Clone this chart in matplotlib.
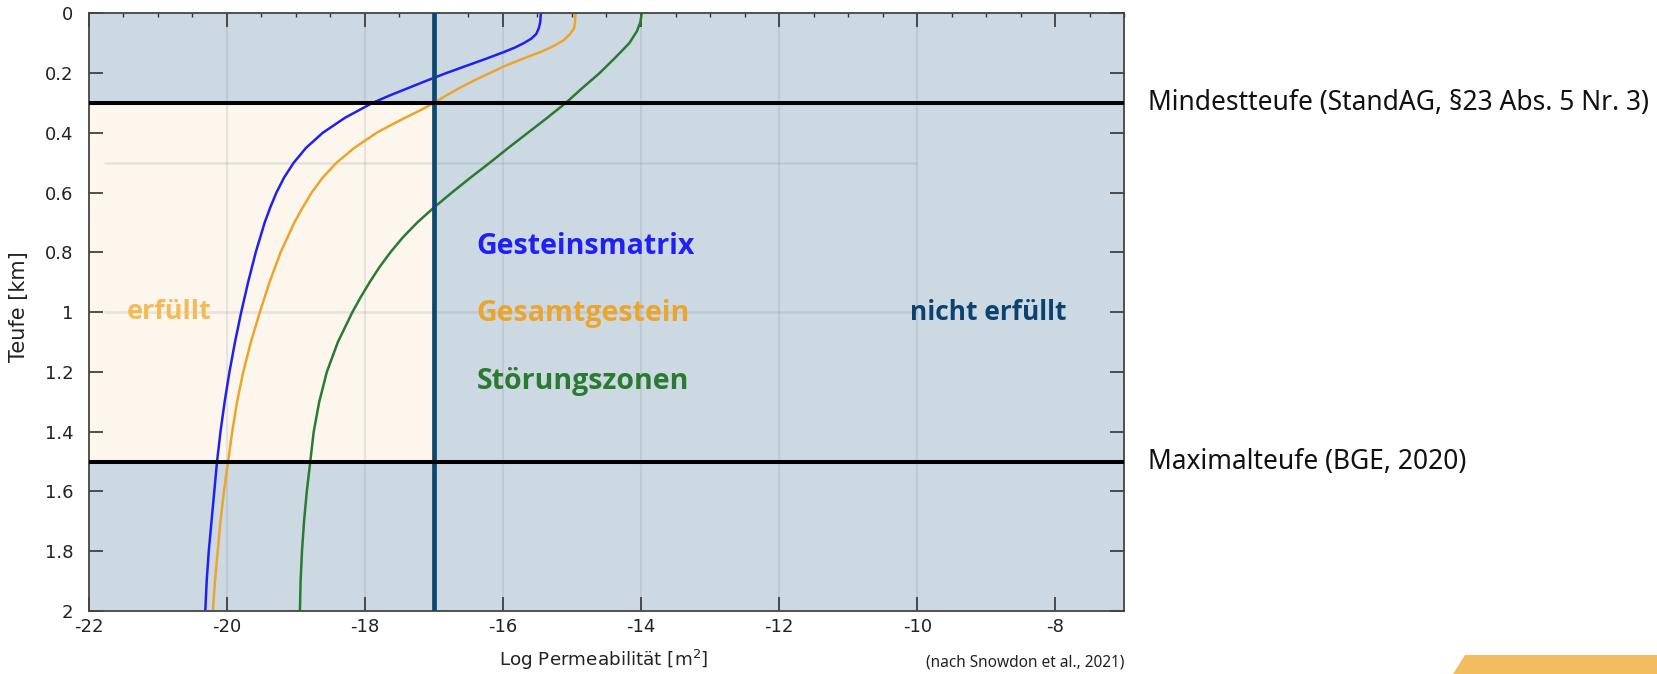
import matplotlib
matplotlib.use("Agg")
import matplotlib.pyplot as plt
from matplotlib.patches import Polygon
from matplotlib.transforms import blended_transform_factory
from matplotlib.ticker import MultipleLocator, FuncFormatter
from matplotlib import font_manager

plt.rcParams['axes.unicode_minus'] = False

# ---------------- data ----------------
blue_depth = [0.0, 0.03, 0.05, 0.07, 0.085, 0.1, 0.115, 0.13, 0.15, 0.175,
              0.2, 0.225, 0.25, 0.275, 0.3, 0.35, 0.4, 0.45, 0.5, 0.55,
              0.6, 0.65, 0.7, 0.8, 0.9, 1.0, 1.1, 1.2, 1.3, 1.4,
              1.5, 1.6, 1.7, 1.8, 1.9, 2.0]
blue_logk = [-15.45, -15.46, -15.48, -15.52, -15.59, -15.70, -15.83, -15.99, -16.22, -16.52,
             -16.82, -17.10, -17.37, -17.64, -17.89, -18.29, -18.61, -18.85, -19.03, -19.17,
             -19.28, -19.37, -19.45, -19.58, -19.69, -19.79, -19.88, -19.96, -20.03, -20.09,
             -20.14, -20.18, -20.22, -20.26, -20.29, -20.31]

orange_depth = [0.0, 0.03, 0.05, 0.07, 0.09, 0.11, 0.13, 0.15, 0.175, 0.2,
                0.225, 0.25, 0.275, 0.3, 0.325, 0.35, 0.375, 0.4, 0.45, 0.5,
                0.55, 0.6, 0.65, 0.7, 0.8, 0.9, 1.0, 1.1, 1.2, 1.3,
                1.4, 1.5, 1.6, 1.7, 1.8, 1.9, 2.0]
orange_logk = [-14.95, -14.955, -14.97, -15.03, -15.12, -15.27, -15.46, -15.69, -15.96, -16.19,
               -16.42, -16.63, -16.82, -17.00, -17.20, -17.42, -17.63, -17.83, -18.15, -18.41,
               -18.61, -18.77, -18.90, -19.02, -19.22, -19.38, -19.52, -19.65, -19.76, -19.85,
               -19.92, -19.98, -20.04, -20.09, -20.13, -20.17, -20.20]

green_depth = [0.0, 0.03, 0.06, 0.1, 0.15, 0.2, 0.25, 0.3, 0.35, 0.4,
               0.45, 0.5, 0.55, 0.6, 0.65, 0.7, 0.75, 0.8, 0.85, 0.9,
               0.95, 1.0, 1.1, 1.2, 1.3, 1.4, 1.5, 1.6, 1.7, 1.8,
               1.9, 2.0]
green_logk = [-13.99, -14.01, -14.06, -14.17, -14.38, -14.60, -14.85, -15.09, -15.36, -15.64,
              -15.92, -16.19, -16.47, -16.74, -17.00, -17.24, -17.45, -17.63, -17.79, -17.93,
              -18.06, -18.18, -18.39, -18.55, -18.66, -18.74, -18.79, -18.84, -18.88, -18.91,
              -18.93, -18.94]

series_names = ["Gesteinsmatrix", "Gesamtgestein", "Störungszonen"]
series_label_depth = [0.78, 1.005, 1.232]
series_label_x = -16.38

threshold_logk = -17.0
min_depth = 0.3
max_depth = 1.5
min_depth_label = "Mindestteufe (StandAG, §23 Abs. 5 Nr. 3)"
max_depth_label = "Maximalteufe (BGE, 2020)"
ok_label = "erfüllt"
not_ok_label = "nicht erfüllt"
source_label = "(nach Snowdon et al., 2021)"
x_ticks = [-22, -20, -18, -16, -14, -12, -10, -8]
grid_x = [-20, -18, -16, -14, -12, -10]
faint_h = [0.5, 1.0]

# ---------------- styling ----------------
c_blue = '#2020F2'
c_orange = '#EBA52D'
c_green = '#2B7A32'
c_bg = '#CCD9E2'
c_beige = '#FDF6EC'
c_navy = '#0D4873'

# pick a family that really has a bold face
bold_family = 'DejaVu Sans'
for fam in ['Noto Sans', 'Open Sans', 'Lato', 'Roboto']:
    try:
        p = font_manager.findfont(font_manager.FontProperties(family=fam, weight='bold'),
                                  fallback_to_default=False)
        if 'bold' in p.lower():
            bold_family = fam
            break
    except Exception:
        pass

W, H = 1658, 674
fig = plt.figure(figsize=(W / 100, H / 100), dpi=100)
L, R, T, B = 88.6, 1124.4, 13.3, 611.0
ax = fig.add_axes([L / W, 1 - B / H, (R - L) / W, (B - T) / H])
ax.set_xlim(-22, -7)
ax.set_ylim(2, 0)
ax.set_facecolor(c_bg)

# fulfilled region
ax.fill_between([-22, threshold_logk], min_depth, max_depth, color=c_beige, zorder=0.5, lw=0)

# faint grid
ax.vlines(grid_x, 0, 2, colors='#6f7f8c', alpha=0.16, lw=1.5, zorder=0.8)
ax.hlines(faint_h, -21.78, -10, colors='#6f7f8c', alpha=0.16, lw=1.8, zorder=0.8)

# curves
ax.plot(blue_logk, blue_depth, color=c_blue, lw=1.8, zorder=2)
ax.plot(orange_logk, orange_depth, color=c_orange, lw=1.8, zorder=2)
ax.plot(green_logk, green_depth, color=c_green, lw=1.8, zorder=2)

# threshold lines
ax.axvline(threshold_logk, color=c_navy, lw=3.4, zorder=3)
ax.axhline(min_depth, color='black', lw=2.9, zorder=3.5)
ax.axhline(max_depth, color='black', lw=2.9, zorder=3.5)

# ticks
ax.set_xticks(x_ticks)
ax.xaxis.set_minor_locator(MultipleLocator(0.5))
ax.yaxis.set_major_locator(MultipleLocator(0.2))
ax.yaxis.set_major_formatter(FuncFormatter(lambda v, p: f"{v:g}"))
ax.tick_params(which='major', direction='in', length=10, width=1.2, color='#333333',
               top=True, right=True, labelsize=13, labelcolor='#222222')
ax.tick_params(axis='y', which='major', pad=11)
ax.tick_params(axis='x', which='major', pad=5)
ax.tick_params(which='minor', direction='in', length=3, width=1.0, color='#333333',
               top=True, bottom=False)
ax.tick_params(axis='y', which='minor', left=False, right=False)
for s in ax.spines.values():
    s.set_color('#444444')
    s.set_linewidth(1.3)

ax.set_xlabel("Log Permeabilität [m$^2$]", fontsize=13.2, color='#222222')
ax.set_ylabel("Teufe [km]", fontsize=15, color='#222222')
ax.xaxis.set_label_coords(0.497, -0.062)
ax.yaxis.set_label_coords(-0.058, 0.51)

# curve labels
bold = dict(family=bold_family, fontweight='bold', fontsize=20.5, va='center', ha='left', zorder=5)
for name, d, c in zip(series_names, series_label_depth, [c_blue, c_orange, c_green]):
    ax.text(series_label_x, d, name, color=c, **bold)
ax.text(-21.45, 1.0, ok_label, color='#F4BA58', **dict(bold, fontsize=19.5))
ax.text(-10.1, 1.0, not_ok_label, color='#0B436E', **dict(bold, fontsize=19))

# right side labels
tr = blended_transform_factory(ax.transAxes, ax.transData)
ax.text(1.0228, min_depth, min_depth_label, transform=tr, fontsize=19, family='Noto Sans',
        va='center', ha='left', color='#111111', clip_on=False)
ax.text(1.0228, max_depth, max_depth_label, transform=tr, fontsize=19, family='Noto Sans',
        va='center', ha='left', color='#111111', clip_on=False)
ax.text(1.0, -0.087, source_label, transform=ax.transAxes, fontsize=11.1, family='Noto Sans',
        va='center', ha='right', color='#222222')

# decorative orange tab bottom right
poly = Polygon([[1465 / W, 1 - 655 / H], [1.0, 1 - 655 / H], [1.0, 0.0], [1453 / W, 0.0]],
               closed=True, transform=fig.transFigure, color='#F3BD5F', lw=0)
fig.patches.append(poly)

fig.savefig("out.png", dpi=100)
